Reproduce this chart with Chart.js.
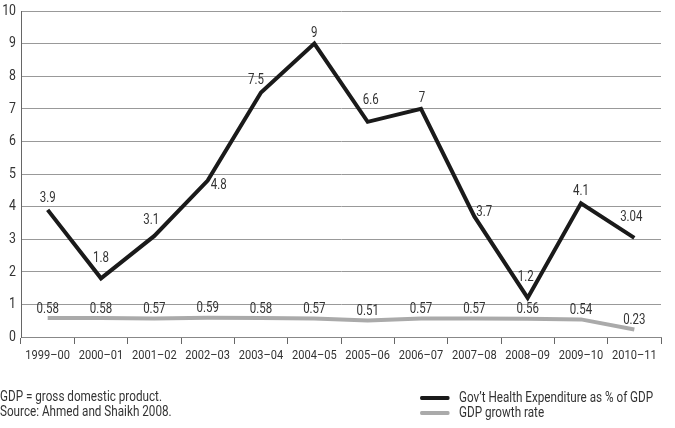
<!DOCTYPE html>
<html>
<head>
<meta charset="utf-8">
<script src="https://cdn.jsdelivr.net/npm/chart.js@4/dist/chart.umd.min.js"></script>
<style>
  body { margin: 0; background: #fff; }
  #wrap { position: relative; width: 675px; height: 428px; font-family: Roboto, sans-serif; color: #333; }
  #chart { position: absolute; left: 0; top: 0; }
  .txt { position: absolute; font-size: 15px; line-height: 15px; white-space: nowrap; transform: scaleX(0.78); transform-origin: 0 50%; }
  .leg span { display: inline-block; width: 38px; height: 4px; border-radius: 2px; margin-right: 12px; vertical-align: middle; }
</style>
</head>
<body>
<div id="wrap">
  <canvas id="chart" width="675" height="428"></canvas>
  <div class="txt" style="left:0;top:389px">GDP = gross domestic product.</div>
  <div class="txt" style="left:0;top:404px">Source: Ahmed and Shaikh 2008.</div>
  <div class="txt leg" style="left:420px;top:390px"><span style="background:#1a1a1a"></span>Gov’t Health Expenditure as % of GDP</div>
  <div class="txt leg" style="left:420px;top:405px"><span style="background:#aaaaaa"></span>GDP growth rate</div>
</div>
<script>
// 数据
const years = ['1999–00', '2000–01', '2001–02', '2002–03', '2003–04', '2004–05',
  '2005–06', '2006–07', '2007–08', '2008–09', '2009–10', '2010–11'];
const healthExp = [3.9, 1.8, 3.1, 4.8, 7.5, 9, 6.6, 7, 3.7, 1.2, 4.1, 3.04];
const healthLabels = ['3.9', '1.8', '3.1', '4.8', '7.5', '9', '6.6', '7', '3.7', '1.2', '4.1', '3.04'];
const gdpGrowth = [0.58, 0.58, 0.57, 0.59, 0.58, 0.57, 0.51, 0.57, 0.57, 0.56, 0.54, 0.23];
const gdpLabels = ['0.58', '0.58', '0.57', '0.59', '0.58', '0.57', '0.51', '0.57', '0.57', '0.56', '0.54', '0.23'];
const yTicks = [0, 1, 2, 3, 4, 5, 6, 7, 8, 9, 10];

const FONT = 'Roboto, sans-serif';
const SQUEEZE = 0.82; // 模拟窄体字

// 数值标签相对数据点的偏移（样式，非数据）
const labelShift = {
  0: [0, -11], 1: [0, -20], 2: [-3, -15], 3: [11, 5], 4: [-5, -12], 5: [0, -10],
  6: [3, -21], 7: [1, -10], 8: [10, -4], 9: [-2, -20], 10: [0, -12], 11: [-3, -20]
};

function drawText(ctx, text, x, y, align, size) {
  ctx.save();
  ctx.font = size + 'px ' + FONT;
  ctx.fillStyle = '#333';
  ctx.textAlign = align;
  ctx.textBaseline = 'middle';
  ctx.translate(x, y);
  ctx.scale(SQUEEZE, 1);
  ctx.fillText(text, 0, 0);
  ctx.restore();
}

/**
 * 绘制坐标轴文字和数据点数值
 */
const textLayer = {
  id: 'textLayer',
  afterDraw(chart) {
    const ctx = chart.ctx;
    const xs = chart.scales.x, ys = chart.scales.y;
    years.forEach((t, i) => drawText(ctx, t, xs.getPixelForTick(i), xs.top + 19, 'center', 13.5));
    yTicks.forEach(v => drawText(ctx, String(v), ys.right - 5, ys.getPixelForValue(v), 'right', 15));
    chart.data.datasets.forEach((ds, di) => {
      const meta = chart.getDatasetMeta(di);
      meta.data.forEach((pt, i) => {
        const s = di === 0 ? labelShift[i] : [0, -9];
        drawText(ctx, ds.labelsText[i], pt.x + s[0], pt.y + s[1], 'center', 14);
      });
    });
  }
};

new Chart(document.getElementById('chart'), {
  type: 'line',
  data: {
    labels: years,
    datasets: [{
      label: 'Gov’t Health Expenditure as % of GDP',
      data: healthExp,
      labelsText: healthLabels,
      borderColor: '#1a1a1a',
      borderWidth: 4,
      borderJoinStyle: 'miter',
      pointRadius: 0,
      tension: 0
    }, {
      label: 'GDP growth rate',
      data: gdpGrowth,
      labelsText: gdpLabels,
      borderColor: '#aaaaaa',
      borderWidth: 4,
      pointRadius: 0,
      tension: 0
    }]
  },
  options: {
    responsive: false,
    animation: false,
    layout: { padding: { left: 0, right: 14, top: 11, bottom: 61 } },
    plugins: { legend: { display: false }, tooltip: { enabled: false } },
    scales: {
      x: {
        offset: true,
        grid: { offset: true, drawOnChartArea: false, drawTicks: true, tickLength: 7, color: '#666' },
        border: { display: true, color: '#888' },
        ticks: { display: false, autoSkip: false },
        afterFit(scale) { scale.height = 30; }
      },
      y: {
        min: 0,
        max: 10,
        afterBuildTicks(scale) { scale.ticks = yTicks.map(v => ({ value: v })); },
        grid: { color: '#999', drawTicks: false },
        border: { display: true, color: '#666' },
        ticks: { display: false },
        afterFit(scale) { scale.width = 21; }
      }
    }
  },
  plugins: [textLayer]
});
</script>
</body>
</html>
